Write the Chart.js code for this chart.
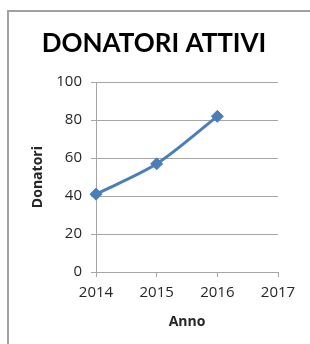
<!DOCTYPE html>
<html>
<head>
<meta charset="utf-8">
<script src="https://cdn.jsdelivr.net/npm/chart.js@4"></script>
<style>
  body { margin: 0; background: #fff; }
  .wrap { position: relative; width: 310px; height: 344px; }
  .frame { position: absolute; left: 7px; top: 10px; width: 320px; height: 340px;
           border-left: 2px solid #a0a0a0; border-top: 2px solid #a0a0a0; }
  canvas { position: absolute; left: 0; top: 0; }
</style>
</head>
<body>
<div class="wrap">
  <div class="frame"></div>
  <canvas id="donChart" width="310" height="344"></canvas>
</div>
<script>
// data
const years = ['2014', '2015', '2016', '2017'];
const donatori = [41, 57, 82, null];
const yTicks = [0, 20, 40, 60, 80, 100];

const textColor = '#262626';
const gridColor = '#a6a6a6';

const ctx = document.getElementById('donChart');
const donChart = new Chart(ctx, {
  type: 'line',
  data: {
    labels: years,
    datasets: [{
      label: 'Donatori',
      data: donatori,
      borderColor: '#4a7ebb',
      backgroundColor: '#4a7ebb',
      borderWidth: 3,
      tension: 0.3,
      pointStyle: 'rectRot',
      pointRadius: 6,
      pointBorderWidth: 1
    }]
  },
  options: {
    responsive: false,
    animation: false,
    layout: { padding: { top: 10, left: 30, right: 32, bottom: 14 } },
    plugins: {
      legend: { display: false },
      tooltip: { enabled: false },
      title: {
        display: true,
        text: 'DONATORI ATTIVI',
        color: '#000',
        font: { family: 'Lato', size: 26, weight: 'bold' },
        padding: { top: 18, bottom: 23 }
      }
    },
    scales: {
      x: {
        offset: false,
        grid: { display: true, drawOnChartArea: false, color: gridColor, tickLength: 5 },
        border: { color: gridColor },
        ticks: { color: textColor, font: { family: 'Open Sans', size: 15 }, padding: 7, maxRotation: 0 },
        title: { display: true, text: 'Anno', color: textColor,
                 font: { family: 'Open Sans', size: 14, weight: 'bold' }, padding: { top: 4, bottom: 0 } },
        afterFit: s => { s.height = 58; }
      },
      y: {
        min: 0,
        max: 100,
        afterBuildTicks: s => { s.ticks = yTicks.map(v => ({ value: v })); },
        grid: { color: gridColor, tickLength: 5 },
        border: { color: gridColor },
        ticks: { color: textColor, font: { family: 'Open Sans', size: 15 }, padding: 9 },
        title: { display: true, text: 'Donatori', color: textColor,
                 font: { family: 'Open Sans', size: 14, weight: 'bold' }, padding: { top: 0, bottom: 0 } },
        afterFit: s => { s.width = 66; }
      }
    }
  }
});
</script>
</body>
</html>
